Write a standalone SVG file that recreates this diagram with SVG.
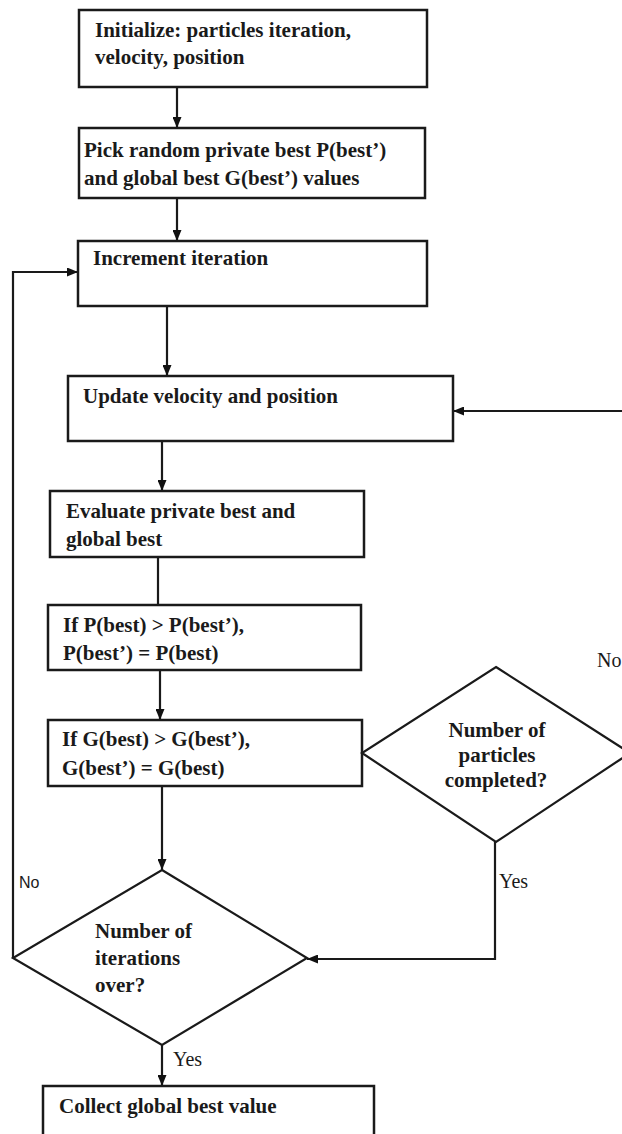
<svg xmlns="http://www.w3.org/2000/svg" width="622" height="1134" viewBox="0 0 622 1134">
<defs>
<marker id="ah" markerWidth="11" markerHeight="9" refX="11" refY="4.5" orient="auto" markerUnits="userSpaceOnUse"><path d="M0,0 L11,4.5 L0,9 z" fill="#111"/></marker>
<style>
.box{fill:#fff;stroke:#1a1a1a;stroke-width:2.5}
.dia{fill:#fff;stroke:#1a1a1a;stroke-width:2.2}
.t{font-family:"Liberation Serif","Times New Roman",serif;font-weight:bold;font-size:21px;fill:#1a1a1a}
.lbl{font-family:"Liberation Serif","Times New Roman",serif;font-size:20px;fill:#1a1a1a}
.lbls{font-family:"Liberation Sans",Arial,sans-serif;font-size:16px;fill:#1a1a1a}
.c{fill:none;stroke:#1a1a1a;stroke-width:2.2}
.mid{text-anchor:middle}
</style>
</defs>
<rect width="622" height="1134" fill="#fff"/>
<g id="connectors">
<path class="c" d="M177,87 V128" marker-end="url(#ah)"/>
<path class="c" d="M177,198 V241" marker-end="url(#ah)"/>
<path class="c" d="M167,306 V376" marker-end="url(#ah)"/>
<path class="c" d="M162,441 V491" marker-end="url(#ah)"/>
<path class="c" d="M158,557 V605"/>
<path class="c" d="M160,670 V720" marker-end="url(#ah)"/>
<path class="c" d="M162,786 V870" marker-end="url(#ah)"/>
<path class="c" d="M162,1045 V1086" marker-end="url(#ah)"/>
<path class="c" d="M13,958 V272 H78" marker-end="url(#ah)"/>
<path class="c" d="M495,842 V959 H307" marker-end="url(#ah)"/>
<path class="c" d="M630,753 V411 H453" marker-end="url(#ah)"/>
</g>
<g id="n_init">
<rect class="box" x="79" y="10" width="348" height="77"/>
<text class="t" x="95" y="37">Initialize: particles iteration,</text>
<text class="t" x="95" y="64">velocity, position</text>
</g>
<g id="n_pick">
<rect class="box" x="79" y="128" width="346" height="70"/>
<text class="t" x="84" y="157">Pick random private best P(best’)</text>
<text class="t" x="84" y="185">and global best G(best’) values</text>
</g>
<g id="n_incr">
<rect class="box" x="78" y="241" width="349" height="65"/>
<text class="t" x="93" y="265">Increment iteration</text>
</g>
<g id="n_update">
<rect class="box" x="68" y="376" width="385" height="65"/>
<text class="t" x="83" y="403">Update velocity and position</text>
</g>
<g id="n_eval">
<rect class="box" x="50" y="491" width="314" height="66"/>
<text class="t" x="66" y="518">Evaluate private best and</text>
<text class="t" x="66" y="546">global best</text>
</g>
<g id="n_pbest">
<rect class="box" x="48" y="605" width="313" height="65"/>
<text class="t" x="63" y="632">If P(best) &gt; P(best’),</text>
<text class="t" x="63" y="660">P(best’) = P(best)</text>
</g>
<g id="n_gbest">
<rect class="box" x="48" y="720" width="314" height="66"/>
<text class="t" x="62" y="746">If G(best) &gt; G(best’),</text>
<text class="t" x="62" y="775">G(best’) = G(best)</text>
</g>
<g id="n_particles">
<polygon class="dia" points="496,667 630,753 496,842 362,753"/>
<text class="t mid" x="497" y="737">Number of</text>
<text class="t mid" x="497" y="762">particles</text>
<text class="t mid" x="496" y="787">completed?</text>
</g>
<g id="n_iter">
<polygon class="dia" points="162,870 307,958 162,1045 13,958"/>
<text class="t" x="95" y="938">Number of</text>
<text class="t" x="95" y="965">iterations</text>
<text class="t" x="95" y="992">over?</text>
</g>
<g id="n_collect">
<rect class="box" x="43" y="1086" width="331" height="60"/>
<text class="t" x="59" y="1113">Collect global best value</text>
</g>
<g id="labels">
<text class="lbl" x="597" y="667">No</text>
<text class="lbl" x="499" y="888">Yes</text>
<text class="lbl" x="173" y="1066">Yes</text>
<text class="lbls" x="19" y="888">No</text>
</g>
</svg>
